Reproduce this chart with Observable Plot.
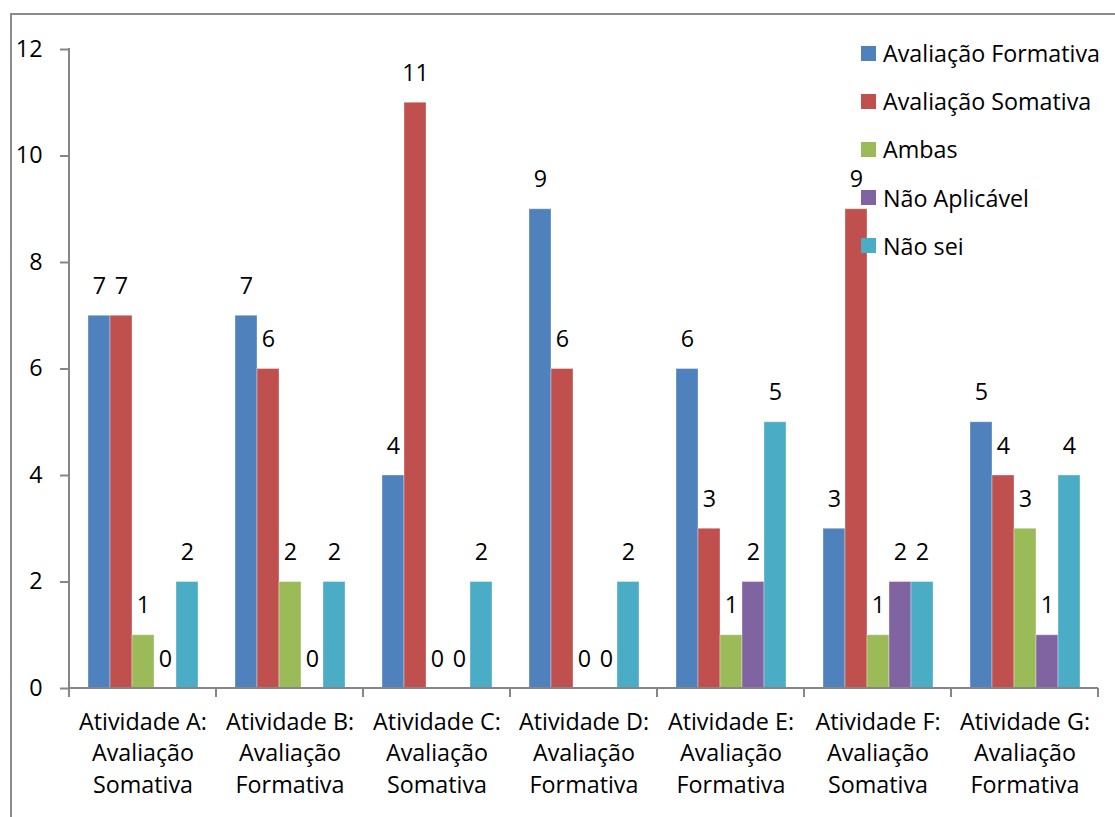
<!DOCTYPE html>
<html><head><meta charset="utf-8">
<script src="https://cdn.jsdelivr.net/npm/d3@7"></script>
<script src="https://cdn.jsdelivr.net/npm/@observablehq/plot@0.6"></script>
<style>
body{margin:0;background:#fff;overflow:hidden;}
#wrap{position:relative;width:1115px;height:817px;overflow:hidden;background:#fff;}
#frame{position:absolute;left:10px;top:13px;width:1200px;height:900px;border:2px solid #8c8c8c;}
#chart{position:absolute;left:0;top:0;}
#legend{position:absolute;left:861px;top:29px;font-family:"Open Sans",sans-serif;font-size:23.3px;color:#000;}
.item{display:flex;align-items:center;height:48.2px;white-space:nowrap;}
.sw{width:15px;height:15px;margin-right:7px;flex:none;}
</style></head>
<body>
<div id="wrap"><div id="frame"></div><div id="chart"></div><div id="legend"></div></div>
<script>
const categories = ["A","B","C","D","E","F","G"];
const categoryLabels = [
  "Atividade A:\nAvaliação\nSomativa",
  "Atividade B:\nAvaliação\nFormativa",
  "Atividade C:\nAvaliação\nSomativa",
  "Atividade D:\nAvaliação\nFormativa",
  "Atividade E:\nAvaliação\nFormativa",
  "Atividade F:\nAvaliação\nSomativa",
  "Atividade G:\nAvaliação\nFormativa"
];
const series = ["Avaliação Formativa","Avaliação Somativa","Ambas","Não Aplicável","Não sei"];
const colors = ["#4F81BD","#C0504D","#9BBB59","#8064A2","#4BACC6"];
const avaliacaoFormativa = [7,7,4,9,6,3,5];
const avaliacaoSomativa = [7,6,11,6,3,9,4];
const ambas = [1,2,0,0,1,1,3];
const naoAplicavel = [0,0,0,0,2,2,1];
const naoSei = [2,2,2,2,5,2,4];
const yTicks = [0,2,4,6,8,10,12];

const seriesValues = [avaliacaoFormativa, avaliacaoSomativa, ambas, naoAplicavel, naoSei];
const rows = [];
categories.forEach((c,i) => series.forEach((s,j) => rows.push({cat:c, series:s, value:seriesValues[j][i]})));
const labelOf = Object.fromEntries(categories.map((c,i)=>[c, categoryLabels[i]]));

const font = "'Open Sans', sans-serif";
const fs = 23.3;
const axisColor = "#868686";

const axesRender = (index, scales, values, dimensions) => {
  const g = d3.create("svg:g").attr("stroke", axisColor).attr("stroke-width", 2).attr("fill","none");
  const {marginLeft, marginRight, marginTop, marginBottom, width, height} = dimensions;
  const y0 = scales.y ? scales.y(0) : height - marginBottom;
  const y1 = scales.y ? scales.y(12) : marginTop;
  g.append("line").attr("x1", marginLeft).attr("x2", marginLeft).attr("y1", y0 + 1).attr("y2", y1 - 1);
  g.append("line").attr("x1", marginLeft).attr("x2", width - marginRight).attr("y1", y0).attr("y2", y0);
  let bounds;
  if (scales.fx) {
    bounds = categories.map(c => scales.fx(c));
    bounds.push(scales.fx(categories[categories.length-1]) + scales.fx.bandwidth());
  } else {
    const step = (width - marginLeft - marginRight) / categories.length;
    bounds = d3.range(categories.length + 1).map(i => marginLeft + i * step);
  }
  for (const b of bounds) g.append("line").attr("x1", b).attr("x2", b).attr("y1", y0).attr("y2", y0 + 9);
  return g.node();
};

const chart = Plot.plot({
  width: 1115, height: 817,
  marginLeft: 68, marginRight: 17, marginTop: 49, marginBottom: 129,
  style: {fontFamily: font, fontSize: fs + "px", color: "#000", background: "transparent", overflow: "visible"},
  fx: {domain: categories, padding: 0, label: null, axis: null},
  x: {domain: series, paddingInner: 0, paddingOuter: 0.75, axis: null},
  y: {domain: [0,12], label: null, axis: null},
  color: {domain: series, range: colors},
  marks: [
    Plot.barY(rows, {fx: "cat", x: "series", y: "value", fill: "series", stroke: "#ffffff", strokeOpacity: 0.35, strokeWidth: 1}),
    Plot.text(rows, {fx: "cat", x: "series", y: "value", text: d => String(d.value), lineAnchor: "bottom", dy: -22, fill: "#000", fontSize: fs}),
    Plot.axisY({ticks: yTicks, tickSize: 9, tickPadding: 18, stroke: axisColor, strokeWidth: 2, fill: "#000", label: null, fontSize: fs}),
    Plot.axisFx({anchor: "bottom", tickSize: 0, tickPadding: 19, lineHeight: 1.355, tickFormat: d => labelOf[d], fill: "#000", label: null, fontSize: fs}),
    Plot.frame({facet: "super", stroke: "none", render: axesRender})
  ]
});
document.getElementById("chart").appendChild(chart);

const legend = d3.select("#legend");
series.forEach((s,i) => {
  const it = legend.append("div").attr("class","item");
  it.append("div").attr("class","sw").style("background", colors[i]);
  it.append("span").text(s);
});
</script>
</body></html>
